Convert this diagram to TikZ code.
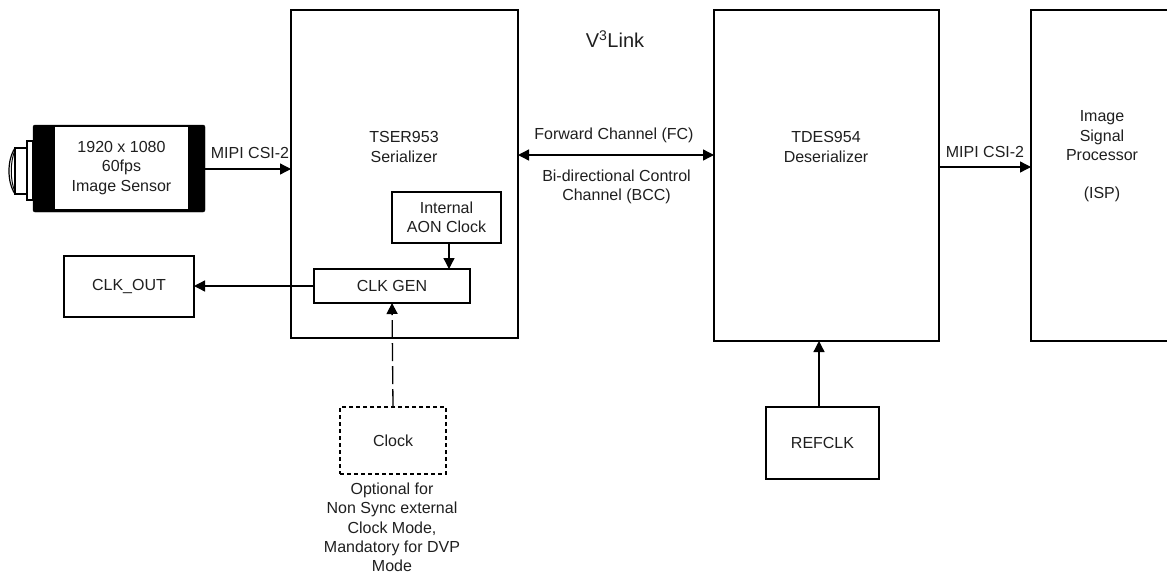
\documentclass[tikz,border=0pt]{standalone}
\usepackage{fontspec}
\setmainfont{Liberation Sans}
\usetikzlibrary{arrows.meta}
\tikzset{
  x=1pt,y=-1pt,
  blk/.style={draw=black,line width=1.7pt,fill=white,inner sep=0pt,outer sep=0pt,anchor=north west,align=center,font=\fontsize{16}{19.3}\selectfont,text=black!88},
  dotbox/.style={blk,dash pattern=on 4pt off 3pt,line width=2pt},
  lbl/.style={align=center,inner sep=0pt,outer sep=0pt,font=\fontsize{16}{19.3}\selectfont,text=black!88},
  conn/.style={line width=1.3pt,-{Triangle[length=11pt,width=11pt]}},
  biconn/.style={line width=1.3pt,{Triangle[length=11pt,width=11pt]}-{Triangle[length=11pt,width=11pt]}},
  dconn/.style={conn,dash pattern=on 18pt off 5pt}
}
\newcommand{\boxat}[6][]{\node[blk,#1,minimum width=#4pt,minimum height=#5pt] (#2) at (#3) {#6};}
\begin{document}
\begin{tikzpicture}
\useasboundingbox (0,0) rectangle (1167,576);
\clip (0,0) rectangle (1167,576);
% main blocks
\boxat{ser}{291,10}{227}{328}{}
\boxat{des}{714,10}{225}{331}{}
\boxat{isp}{1031,10}{140}{331}{}
\node[lbl] (sertxt) at (404,147) {TSER953\\Serializer};
\node[lbl] (destxt) at (826,147) {TDES954\\Deserializer};
\node[lbl] (isptxt) at (1102,156.5) {Image\\Signal\\Processor\\[19.3pt](ISP)};
\node[lbl,font=\fontsize{20}{24}\selectfont] (v3) at (615,39) {V\textsuperscript{3}Link};
% sensor
\draw[line width=1.2pt,fill=white] (15,148) .. controls (7,160) and (7,182) .. (15,194);
\draw[line width=1pt] (15,150) .. controls (10,162) and (10,180) .. (15,192);
\node[blk,anchor=north west,minimum width=12pt,minimum height=46pt,line width=1.3pt] (lens) at (15,148) {};
\node[blk,anchor=north west,minimum width=6pt,minimum height=59pt,line width=1.3pt] (mount) at (27,141) {};
\node[draw=black,fill=black,rounded corners=2pt,inner sep=0pt,outer sep=0pt,anchor=north west,minimum width=172pt,minimum height=87pt] (sensor) at (33,125) {};
\node[fill=white,inner sep=0pt,outer sep=0pt,anchor=north west,minimum width=133pt,minimum height=82pt,align=center,font=\fontsize{16}{19.3}\selectfont,text=black!88] (sensortxt) at (55,127) {1920 x 1080\\60fps\\Image Sensor};
% inner blocks
\boxat{aon}{392,192}{109}{51}{Internal\\AON Clock}
\boxat{gen}{314,269}{156}{34}{CLK GEN}
\boxat{out}{64,256}{130}{61}{CLK\_OUT}
\boxat[dotbox]{clk}{340,407}{106}{67}{Clock}
\boxat{ref}{766,407}{113}{72}{REFCLK}
% connectors
\draw[conn] (sensor.east |- 0,169) -- (ser.west |- 0,169);
\draw[biconn] (ser.east |- 0,155) -- (des.west |- 0,155);
\draw[conn] (des.east |- 0,167) -- (isp.west |- 0,167);
\draw[conn] ([xshift=2.5pt]aon.south) -- ([xshift=2.5pt]aon.south |- gen.north);
\draw[conn] (gen.west) -- (out.east |- gen.west);
\draw[dconn] (clk.north) -- (gen.south);
\draw[conn] ([xshift=-3.5pt]ref.north) -- ([xshift=-3.5pt]ref.north |- des.south);
% labels
\node[lbl] (mipia) at (250,153) {MIPI CSI-2};
\node[lbl] (mipib) at (985,152) {MIPI CSI-2};
\node[lbl] (fc) at (614,135) {Forward Channel (FC)};
\node[lbl] (bcc) at (616.5,187) {Bi-directional Control\\Channel (BCC)};
\node[lbl] (note) at (392,527.5) {Optional for\\Non Sync external\\Clock Mode,\\Mandatory for DVP\\Mode};
\end{tikzpicture}
\end{document}
